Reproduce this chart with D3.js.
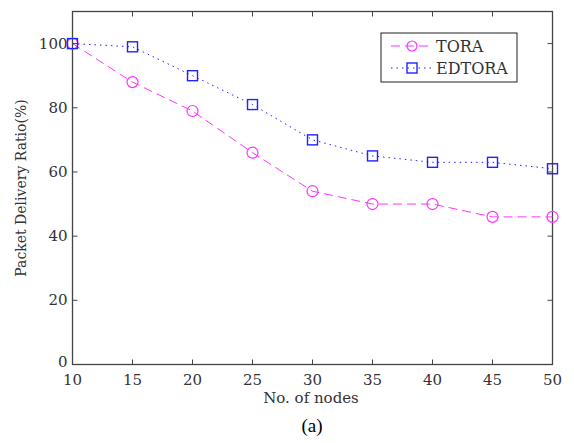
<!DOCTYPE html>
<html><head><meta charset="utf-8">
<script src="https://cdn.jsdelivr.net/npm/d3@7"></script>
<style>body{margin:0;background:#fff}</style>
</head><body>
<svg id="c" width="574" height="443"></svg>
<script>
const nodes = [10, 15, 20, 25, 30, 35, 40, 45, 50];
const tora = [100, 88, 79, 66, 54, 50, 50, 46, 46];
const edtora = [100, 99, 90, 81, 70, 65, 63, 63, 61];
const xTicks = [10, 15, 20, 25, 30, 35, 40, 45, 50];
const yTicks = [0, 20, 40, 60, 80, 100];

const svg = d3.select("#c");
const L = 72.5, R = 552.5, T = 11.5, B = 364.5;
const x = d3.scaleLinear().domain([10, 50]).range([L, R]);
const y = d3.scaleLinear().domain([0, 110]).range([B, T]);
const font = "'DejaVu Serif', 'Liberation Serif', serif";
const axisCol = "#444";
const txtCol = "#333";

svg.append("rect").attr("x", L).attr("y", T).attr("width", R - L).attr("height", B - T)
  .attr("fill", "none").attr("stroke", axisCol).attr("stroke-width", 1.3);

const g = svg.append("g");
xTicks.forEach(v => {
  g.append("line").attr("x1", x(v)).attr("x2", x(v)).attr("y1", B).attr("y2", B - 5).attr("stroke", axisCol);
  g.append("line").attr("x1", x(v)).attr("x2", x(v)).attr("y1", T).attr("y2", T + 5).attr("stroke", axisCol);
  g.append("text").attr("x", x(v)).attr("y", B + 20.5).attr("text-anchor", "middle")
    .attr("font-family", font).attr("font-size", 15).attr("fill", txtCol).text(v);
});
yTicks.forEach(v => {
  g.append("line").attr("y1", y(v)).attr("y2", y(v)).attr("x1", L).attr("x2", L + 5).attr("stroke", axisCol);
  g.append("line").attr("y1", y(v)).attr("y2", y(v)).attr("x1", R).attr("x2", R - 5).attr("stroke", axisCol);
  g.append("text").attr("x", L - 5).attr("y", y(v) + (v === 0 ? 2.5 : 5)).attr("text-anchor", "end")
    .attr("font-family", font).attr("font-size", 15).attr("fill", txtCol).text(v);
});

svg.append("text").attr("transform", `translate(26,${(T + B) / 2}) rotate(-90)`).attr("text-anchor", "middle")
  .attr("font-family", font).attr("font-size", 14).attr("fill", txtCol).text("Packet Delivery Ratio(%)");
svg.append("text").attr("x", 311).attr("y", 403).attr("text-anchor", "middle")
  .attr("font-family", font).attr("font-size", 15).attr("fill", txtCol).text("No. of nodes");
svg.append("text").attr("x", 312).attr("y", 432).attr("text-anchor", "middle")
  .attr("font-family", "'Liberation Serif', 'Times New Roman', serif").attr("font-size", 19).attr("fill", "#000").text("(a)");

const line = d3.line().x(d => x(d[0])).y(d => y(d[1]));
const tData = nodes.map((n, i) => [n, tora[i]]);
const eData = nodes.map((n, i) => [n, edtora[i]]);
const mag = "#ff33ff", blue = "#2222ff";

svg.append("path").datum(tData).attr("d", line).attr("fill", "none").attr("stroke", mag)
  .attr("stroke-width", 1).attr("stroke-dasharray", "9,5");
svg.append("path").datum(eData).attr("d", line).attr("fill", "none").attr("stroke", blue)
  .attr("stroke-width", 1).attr("stroke-dasharray", "1.5,4");

svg.selectAll(".tc").data(tData).enter().append("circle")
  .attr("cx", d => x(d[0])).attr("cy", d => y(d[1])).attr("r", 5.5)
  .attr("fill", "none").attr("stroke", mag).attr("stroke-width", 1.2);
svg.selectAll(".es").data(eData).enter().append("rect")
  .attr("x", d => x(d[0]) - 5).attr("y", d => y(d[1]) - 5).attr("width", 10).attr("height", 10)
  .attr("fill", "none").attr("stroke", blue).attr("stroke-width", 1.4);

const lg = svg.append("g");
lg.append("rect").attr("x", 381).attr("y", 33).attr("width", 136).attr("height", 49)
  .attr("fill", "#fff").attr("stroke", "#222").attr("stroke-width", 1);
const rows = [{name: "TORA", col: mag, dash: "9,5", y: 46, m: "c"}, {name: "EDTORA", col: blue, dash: "1.5,4", y: 68, m: "s"}];
rows.forEach(r => {
  lg.append("line").attr("x1", 391).attr("x2", 433).attr("y1", r.y).attr("y2", r.y)
    .attr("stroke", r.col).attr("stroke-dasharray", r.dash);
  if (r.m === "c") lg.append("circle").attr("cx", 412).attr("cy", r.y).attr("r", 5).attr("fill", "none").attr("stroke", r.col).attr("stroke-width", 1.2);
  else lg.append("rect").attr("x", 407).attr("y", r.y - 5).attr("width", 10).attr("height", 10).attr("fill", "none").attr("stroke", r.col).attr("stroke-width", 1.4);
  lg.append("text").attr("x", 436).attr("y", r.y + 5.5).attr("font-family", font).attr("font-size", 16)
    .attr("fill", txtCol).text(r.name);
});
</script>
</body></html>
